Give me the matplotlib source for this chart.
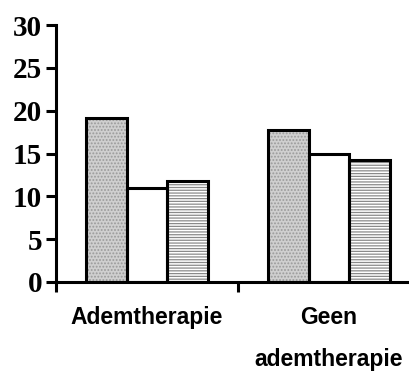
import numpy as np
from matplotlib import pyplot as plt
from matplotlib import font_manager

categories = ['Ademtherapie', 'Geen\nademtherapie']
series1 = [19.1, 17.8]
series2 = [11.0, 15.0]
series3 = [11.8, 14.2]
yticks = [0, 5, 10, 15, 20, 25, 30]

names = {f.name for f in font_manager.fontManager.ttflist}
label_font = 'Liberation Sans Narrow' if 'Liberation Sans Narrow' in names else 'Liberation Sans'

plt.rcParams['hatch.linewidth'] = 0.9

fig = plt.figure(figsize=(4.10, 3.76), dpi=100)
ax = fig.add_axes([56 / 410, 94 / 376, 364 / 410, 257 / 376])

x = np.arange(len(categories))
w = 0.2236
lw = 2.2

# fills first (pattern), then black outlines on top
ax.bar(x - w, series1, w, color='#cfcfcf', edgecolor='#9a9a9a', hatch='.....', linewidth=0, zorder=2)
ax.bar(x, series2, w, color='white', linewidth=0, zorder=2)
ax.bar(x + w, series3, w, color='white', edgecolor='#8a8a8a', hatch='------', linewidth=0, zorder=2)
for offs, vals in [(-w, series1), (0, series2), (w, series3)]:
    ax.bar(x + offs, vals, w, fill=False, edgecolor='black', linewidth=lw, zorder=3)

ax.set_xlim(-0.5, 1.5)
ax.set_ylim(0, 30)

ax.spines['top'].set_visible(False)
ax.spines['right'].set_visible(False)
ax.spines['left'].set_linewidth(lw)
ax.spines['bottom'].set_linewidth(lw)

ax.set_yticks(yticks)
ax.set_yticklabels([str(v) for v in yticks], fontfamily='Liberation Serif',
                   fontweight='bold', fontsize=21)
ax.tick_params(axis='y', direction='out', length=7, width=lw, pad=3)

ax.set_xticks([-0.5, 0.5, 1.5])
ax.set_xticklabels([])
ax.tick_params(axis='x', direction='out', length=7, width=lw)

for xi, lab in zip(x, categories):
    ax.text(xi, -2.8, lab, ha='center', va='top', fontfamily=label_font,
            fontweight='bold', fontsize=16.5, linespacing=2.05,
            transform=ax.transData, clip_on=False)

fig.savefig('out.png', dpi=100)
